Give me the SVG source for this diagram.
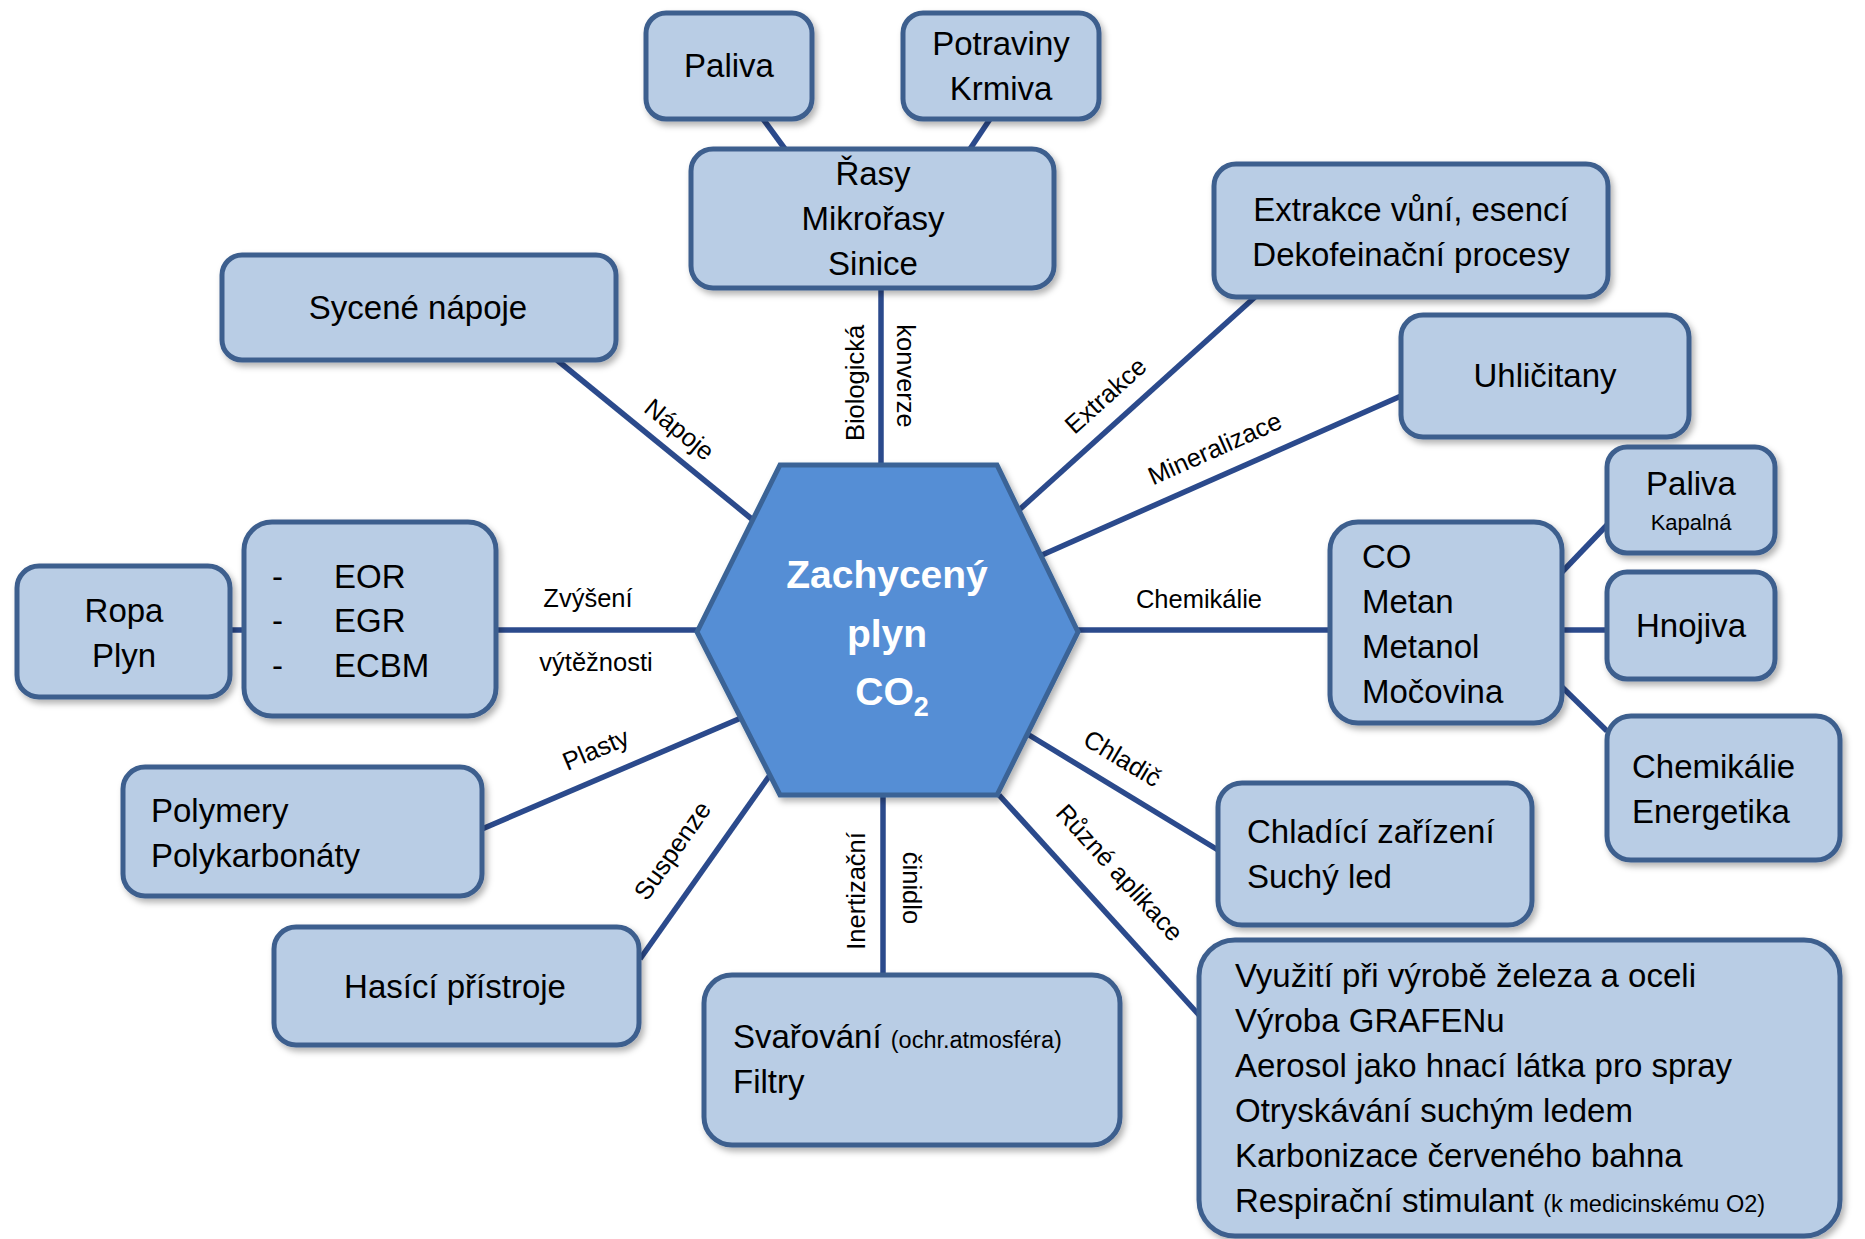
<svg xmlns="http://www.w3.org/2000/svg" width="1865" height="1239" viewBox="0 0 1865 1239">
<defs>
<filter id="sh" x="-10%" y="-10%" width="125%" height="130%">
<feDropShadow dx="3" dy="4" stdDeviation="3" flood-color="#000" flood-opacity="0.3"/>
</filter>
<style>
.box{fill:#B9CDE5;stroke:#3E5F8E;stroke-width:5}
.t{font-family:"Liberation Sans",Arial,sans-serif;font-size:33px;fill:#000}
.m{text-anchor:middle}
.sm{font-size:22px}
.lbl{font-family:"Liberation Sans",Arial,sans-serif;font-size:25.5px;fill:#000;text-anchor:middle}
.c line{stroke:#2B4A8C;stroke-width:5.5;fill:none}
.hx{font-family:"Liberation Sans",Arial,sans-serif;font-size:39px;font-weight:bold;fill:#fff;text-anchor:middle}
</style>
</defs>
<rect width="1865" height="1239" fill="#fff"/>

<g id="connectors" class="c">
<line x1="881" y1="288" x2="881" y2="465"/>
<line x1="763" y1="119" x2="785" y2="149"/>
<line x1="990" y1="119" x2="970" y2="149"/>
<line x1="557" y1="360" x2="753" y2="520"/>
<line x1="1255" y1="297" x2="1019" y2="510"/>
<line x1="1401" y1="396" x2="1042" y2="555"/>
<line x1="1078" y1="630" x2="1330" y2="630"/>
<line x1="1562" y1="572" x2="1607" y2="525"/>
<line x1="1562" y1="630" x2="1607" y2="630"/>
<line x1="1562" y1="687" x2="1607" y2="731"/>
<line x1="1029" y1="735" x2="1218" y2="850"/>
<line x1="999" y1="795" x2="1199" y2="1015"/>
<line x1="883" y1="795" x2="883" y2="975"/>
<line x1="770" y1="775" x2="640" y2="959"/>
<line x1="741" y1="718" x2="482" y2="829"/>
<line x1="496" y1="630" x2="697" y2="630"/>
<line x1="230" y1="630" x2="244" y2="630"/>
</g>

<g id="labels">
<text class="lbl" transform="translate(864,383) rotate(-90)">Biologická</text>
<text class="lbl" transform="translate(897,376) rotate(90)">konverze</text>
<text class="lbl" transform="translate(679,430) rotate(39)" y="8">Nápoje</text>
<text class="lbl" transform="translate(1106,396) rotate(-42)" y="8">Extrakce</text>
<text class="lbl" transform="translate(1215,449) rotate(-24)" y="8">Mineralizace</text>
<text class="lbl" x="1199" y="608">Chemikálie</text>
<text class="lbl" transform="translate(1122,759) rotate(31)" y="8">Chladič</text>
<text class="lbl" transform="translate(1119,873) rotate(47.7)" y="8">Různé aplikace</text>
<text class="lbl" transform="translate(865,891) rotate(-90)">Inertizační</text>
<text class="lbl" transform="translate(903,888) rotate(90)">činidlo</text>
<text class="lbl" transform="translate(673,851) rotate(-55)" y="8">Suspenze</text>
<text class="lbl" transform="translate(596,750) rotate(-23)" y="8">Plasty</text>
<text class="lbl" x="588" y="607">Zvýšení</text>
<text class="lbl" x="596" y="671">výtěžnosti</text>
</g>

<g id="hexagon">
<polygon points="697,632 780,465 997,465 1078,632 997,795 780,795" fill="#558ED5" stroke="#3A6496" stroke-width="5" filter="url(#sh)"/>
<text class="hx" x="887" y="588">Zachycený</text>
<text class="hx" x="887" y="647">plyn</text>
<text class="hx" x="892" y="705">CO<tspan font-size="27" dy="11">2</tspan></text>
</g>

<g id="paliva-top">
<rect class="box" x="646" y="13" width="166" height="106" rx="20" filter="url(#sh)"/>
<text class="t m" x="729" y="77">Paliva</text>
</g>
<g id="potraviny">
<rect class="box" x="903" y="13" width="196" height="106" rx="20" filter="url(#sh)"/>
<text class="t m" x="1001" y="55">Potraviny</text>
<text class="t m" x="1001" y="100">Krmiva</text>
</g>
<g id="rasy">
<rect class="box" x="691" y="149" width="363" height="139" rx="22" filter="url(#sh)"/>
<text class="t m" x="873" y="185">Řasy</text>
<text class="t m" x="873" y="230">Mikrořasy</text>
<text class="t m" x="873" y="275">Sinice</text>
</g>
<g id="sycene">
<rect class="box" x="222" y="255" width="394" height="105" rx="20" filter="url(#sh)"/>
<text class="t m" x="418" y="319">Sycené nápoje</text>
</g>
<g id="extrakce">
<rect class="box" x="1214" y="164" width="394" height="133" rx="22" filter="url(#sh)"/>
<text class="t m" x="1411" y="221">Extrakce vůní, esencí</text>
<text class="t m" x="1411" y="266">Dekofeinační procesy</text>
</g>
<g id="uhlicitany">
<rect class="box" x="1401" y="315" width="288" height="122" rx="22" filter="url(#sh)"/>
<text class="t m" x="1545" y="387">Uhličitany</text>
</g>
<g id="paliva-right">
<rect class="box" x="1607" y="447" width="168" height="106" rx="20" filter="url(#sh)"/>
<text class="t m" x="1691" y="495">Paliva</text>
<text class="t m sm" x="1691" y="530">Kapalná</text>
</g>
<g id="chemikalie-uzel">
<rect class="box" x="1330" y="522" width="232" height="201" rx="28" filter="url(#sh)"/>
<text class="t" x="1362" y="568">CO</text>
<text class="t" x="1362" y="613">Metan</text>
<text class="t" x="1362" y="658">Metanol</text>
<text class="t" x="1362" y="703">Močovina</text>
</g>
<g id="hnojiva">
<rect class="box" x="1607" y="572" width="168" height="107" rx="20" filter="url(#sh)"/>
<text class="t m" x="1691" y="637">Hnojiva</text>
</g>
<g id="chem-energetika">
<rect class="box" x="1607" y="716" width="233" height="144" rx="24" filter="url(#sh)"/>
<text class="t" x="1632" y="778">Chemikálie</text>
<text class="t" x="1632" y="823">Energetika</text>
</g>
<g id="chladici">
<rect class="box" x="1218" y="783" width="314" height="142" rx="24" filter="url(#sh)"/>
<text class="t" x="1247" y="843">Chladící zařízení</text>
<text class="t" x="1247" y="888">Suchý led</text>
</g>
<g id="ruzne">
<rect class="box" x="1199" y="940" width="641" height="296" rx="36" filter="url(#sh)"/>
<text class="t" x="1235" y="987">Využití při výrobě železa a oceli</text>
<text class="t" x="1235" y="1032">Výroba GRAFENu</text>
<text class="t" x="1235" y="1077">Aerosol jako hnací látka pro spray</text>
<text class="t" x="1235" y="1122">Otryskávání suchým ledem</text>
<text class="t" x="1235" y="1167">Karbonizace červeného bahna</text>
<text class="t" x="1235" y="1212">Respirační stimulant <tspan font-size="23.5">(k medicinskému O2)</tspan></text>
</g>
<g id="svarovani">
<rect class="box" x="704" y="975" width="416" height="170" rx="28" filter="url(#sh)"/>
<text class="t" x="733" y="1048">Svařování <tspan font-size="23.5">(ochr.atmosféra)</tspan></text>
<text class="t" x="733" y="1093">Filtry</text>
</g>
<g id="hasici">
<rect class="box" x="274" y="927" width="365" height="118" rx="22" filter="url(#sh)"/>
<text class="t m" x="455" y="998">Hasící přístroje</text>
</g>
<g id="polymery">
<rect class="box" x="123" y="767" width="359" height="129" rx="22" filter="url(#sh)"/>
<text class="t" x="151" y="822">Polymery</text>
<text class="t" x="151" y="867">Polykarbonáty</text>
</g>
<g id="ropa">
<rect class="box" x="17" y="566" width="213" height="131" rx="22" filter="url(#sh)"/>
<text class="t m" x="124" y="622">Ropa</text>
<text class="t m" x="124" y="667">Plyn</text>
</g>
<g id="eor">
<rect class="box" x="244" y="522" width="252" height="194" rx="28" filter="url(#sh)"/>
<text class="t" x="272" y="588">-</text>
<text class="t" x="272" y="632">-</text>
<text class="t" x="272" y="677">-</text>
<text class="t" x="334" y="588">EOR</text>
<text class="t" x="334" y="632">EGR</text>
<text class="t" x="334" y="677">ECBM</text>
</g>
</svg>
